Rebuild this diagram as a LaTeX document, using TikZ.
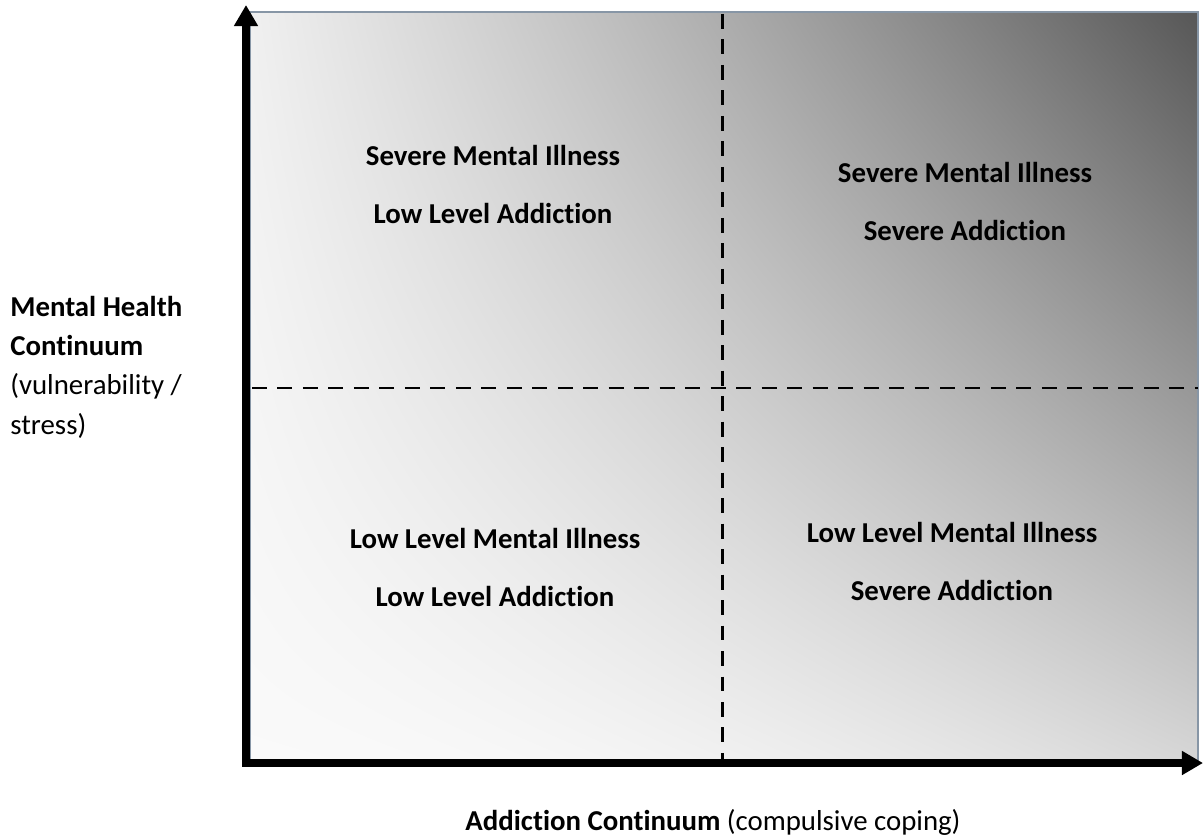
\documentclass[tikz,border=0pt]{standalone}
\usepackage{fontspec}
\setmainfont{Carlito}[Ligatures=NoCommon]
\usetikzlibrary{arrows.meta}

% Field shading: light at the lower left, darkest at the upper right.
% The path's bounding box maps to the inner [25bp,75bp] square.
\pgfdeclarefunctionalshading{quadfield}{\pgfpointorigin}{\pgfpoint{100bp}{100bp}}{}{
  25 sub 50 div exch 25 sub 50 div exch
  2 copy mul -0.46 mul
  exch -0.04 mul add
  exch dup mul -0.14 mul add
  0.98 add
  dup dup
}

\definecolor{framegray}{HTML}{8796A6}

\tikzset{
  axisarrow/.style={line width=4pt, -{Triangle[length=12pt,width=13pt]}},
  divider/.style={line width=1.7pt, dash pattern=on 8.5pt off 6pt},
  quadlabel/.style={font=\bfseries\fontsize{16.4}{33}\selectfont, align=center, inner sep=0pt},
  sidelabel/.style={font=\fontsize{16.4}{22.4}\selectfont, align=left, inner sep=0pt},
}

\begin{document}
\begin{tikzpicture}[x=0.2mm, y=-0.2mm]
  \useasboundingbox (0,0) rectangle (1203,837);

  % shaded field and its frame
  \coordinate (fieldNW) at (250,12);
  \coordinate (fieldSE) at (1198,763);
  \shade[shading=quadfield] (fieldNW) rectangle (fieldSE);
  \draw[framegray, line width=0.8pt] (fieldNW) rectangle (fieldSE);

  % quadrant dividers
  \coordinate (vtop) at (722,14);
  \coordinate (vbot) at (722,762);
  \coordinate (hleft) at (252,388);
  \coordinate (hright) at (1198,388);
  \draw[divider] (vtop) -- (vbot);
  \draw[divider] (hleft) -- (hright);

  % axes
  \coordinate (origin) at (246,766);
  \coordinate (ytip) at (246,5);
  \coordinate (xorigin) at (242,763);
  \coordinate (xtip) at (1203,763);
  \draw[axisarrow] (origin) -- (ytip);
  \draw[axisarrow] (xorigin) -- (xtip);

  % quadrant labels
  \node[quadlabel] (tl) at (493,184) {Severe Mental Illness\\Low Level Addiction};
  \node[quadlabel] (tr) at (965,201) {Severe Mental Illness\\Severe Addiction};
  \node[quadlabel] (bl) at (495,567) {Low Level Mental Illness\\Low Level Addiction};
  \node[quadlabel] (br) at (952,561) {Low Level Mental Illness\\Severe Addiction};

  % axis titles
  \node[sidelabel, anchor=west] (ylabel) at (10,367)
    {\textbf{Mental Health}\\\textbf{Continuum}\\(vulnerability /\\stress)};
  \node[font=\fontsize{16.4}{20}\selectfont, inner sep=0pt] (xlabel) at (713,822)
    {\textbf{Addiction Continuum} (compulsive coping)};
\end{tikzpicture}
\end{document}
